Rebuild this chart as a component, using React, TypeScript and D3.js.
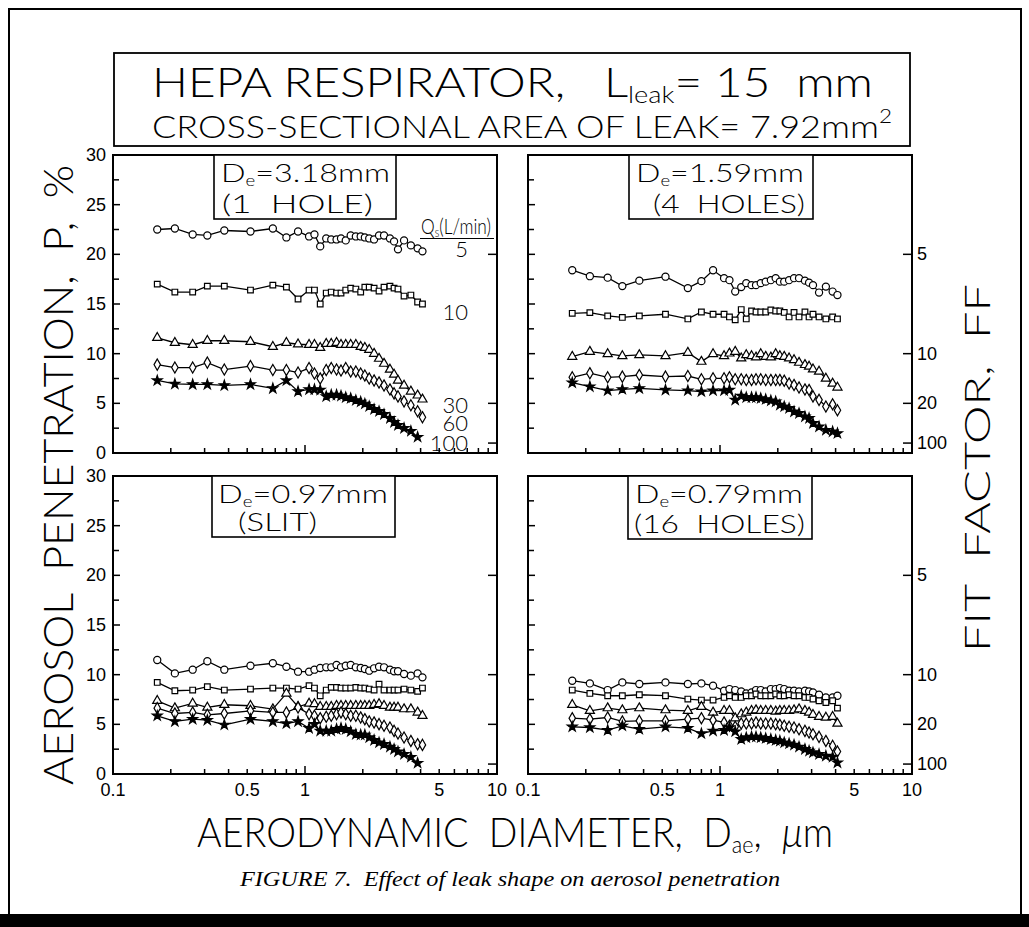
import * as d3 from "d3";

// aerodynamic diameter (um) of each size channel
const sizeUm = [0.17, 0.21, 0.26, 0.31, 0.38, 0.52, 0.68, 0.8, 0.92, 1.05, 1.12, 1.2, 1.29, 1.37, 1.46, 1.54, 1.63, 1.73, 1.84, 1.95, 2.05, 2.16, 2.29, 2.43, 2.58, 2.77, 2.91, 3.05, 3.28, 3.56, 3.86, 4.09];

// De = 3.18 mm (1 hole)
const hole1Q5 = [22.5, 22.6, 22.0, 21.9, 22.4, 22.3, 22.6, 21.7, 22.3, 21.8, 22.0, 20.8, 21.6, 21.5, 21.5, 21.6, 21.4, 21.9, 21.8, 21.8, 21.7, 21.6, 21.5, 21.9, 21.9, 21.6, 21.3, 20.5, 21.4, 20.9, 20.6, 20.3];
const hole1Q10 = [17.0, 16.2, 16.2, 16.8, 16.8, 16.4, 16.9, 16.7, 15.5, 16.4, 16.4, 15.0, 16.1, 16.2, 16.1, 16.1, 16.4, 16.6, 16.5, 16.2, 16.7, 16.7, 16.6, 16.3, 16.7, 16.8, 16.6, 16.5, 15.8, 15.9, 15.2, 15.0];
const hole1Q30 = [11.6, 11.1, 10.9, 11.3, 11.3, 11.2, 10.7, 11.1, 10.95, 10.9, 10.9, 10.6, 11.0, 11.0, 11.1, 10.9, 10.9, 10.9, 10.9, 10.7, 10.6, 10.4, 10.0, 9.5, 9.0, 8.4, 7.9, 7.3, 6.8, 6.2, 5.8, 5.4];
const hole1Q60 = [8.9, 8.6, 8.6, 9.1, 8.4, 8.75, 8.35, 8.35, 8.1, 8.55, 8.0, 7.5, 8.35, 8.55, 8.4, 8.3, 8.55, 8.2, 8.2, 8.0, 7.8, 7.5, 7.3, 7.1, 6.8, 6.4, 6.0, 5.7, 5.2, 4.8, 4.2, 3.6];
const hole1Q100 = [7.3, 6.95, 6.9, 6.9, 6.8, 6.9, 6.5, 7.3, 6.2, 6.4, 6.4, 6.35, 5.7, 5.85, 5.85, 5.75, 5.6, 5.5, 5.3, 5.15, 4.95, 4.7, 4.4, 4.2, 3.9, 3.5, 3.1, 2.8, 2.5, 2.2, 1.6, null];

// De = 1.59 mm (4 holes)
const holes4Q5 = [18.4, 17.8, 17.65, 16.8, 17.35, 17.75, 16.6, 17.3, 18.4, 17.6, 17.4, 16.25, 16.7, 17.1, 16.9, 16.9, 17.1, 17.25, 17.4, 17.6, 17.25, 17.25, 17.4, 17.6, 17.6, 17.35, 17.15, 16.9, 16.15, 16.75, 16.25, 15.9];
const holes4Q10 = [14.06, 14.13, 13.8, 13.65, 13.8, 13.97, 13.5, 14.2, 13.97, 13.97, 13.7, 13.4, 14.44, 13.5, 14.3, 14.2, 14.2, 14.2, 14.4, 14.3, 14.3, 14.15, 13.7, 14.15, 13.7, 14.2, 13.7, 13.97, 13.7, 13.5, 13.7, 13.5];
const holes4Q30 = [9.7, 10.2, 9.97, 9.77, 9.87, 9.77, 10.1, 9.2, 9.97, 9.77, 10.03, 10.2, 9.53, 9.87, 9.77, 9.63, 9.97, 9.7, 9.63, 9.97, 9.77, 9.7, 9.53, 9.36, 9.1, 8.87, 8.7, 8.43, 8.2, 7.5, 7.0, 6.6];
const holes4Q60 = [7.62, 8.03, 7.62, 7.69, 7.85, 7.69, 7.75, 7.42, 7.52, 7.52, 7.62, 7.42, 7.42, 7.35, 7.35, 7.42, 7.42, 7.35, 7.35, 7.35, 7.35, 7.28, 7.0, 6.85, 6.6, 6.4, 6.35, 5.7, 5.35, 4.68, 4.9, 4.3];
const holes4Q100 = [7.08, 6.68, 6.28, 6.41, 6.5, 6.35, 6.28, 6.18, 6.28, 6.28, 6.35, 5.34, 5.74, 5.6, 5.6, 5.6, 5.5, 5.4, 5.27, 5.17, 4.83, 4.67, 4.5, 4.16, 4.0, 3.66, 3.5, 2.99, 2.65, 2.3, 2.15, 1.98];

// De = 0.97 mm (slit)
const slitQ5 = [11.48, 10.13, 10.5, 11.35, 10.5, 10.9, 11.15, 10.8, 10.3, 10.3, 10.5, 10.67, 10.74, 10.74, 10.98, 10.74, 10.9, 10.98, 10.74, 10.67, 10.57, 10.4, 10.64, 10.8, 10.74, 10.5, 10.34, 10.34, 10.07, 9.9, 10.13, 9.73];
const slitQ10 = [9.22, 8.38, 8.45, 8.79, 8.45, 8.55, 8.65, 8.65, 8.55, 8.89, 8.65, 7.87, 8.45, 8.72, 8.72, 8.65, 8.65, 8.65, 8.72, 8.65, 8.65, 8.55, 8.45, 9.05, 8.45, 8.45, 8.45, 8.45, 8.55, 8.45, 8.32, 8.65];
const slitQ30 = [7.37, 6.63, 7.1, 6.7, 6.97, 6.87, 6.53, 8.11, 6.77, 7.1, 7.04, 6.77, 6.77, 6.77, 6.87, 6.87, 6.87, 6.87, 6.87, 6.87, 6.87, 6.87, 6.97, 7.04, 6.87, 6.7, 6.7, 6.7, 6.53, 6.53, 6.2, 5.86];
const slitQ60 = [6.63, 6.09, 6.2, 5.96, 6.09, 6.36, 6.2, 6.2, 6.7, 6.03, 5.86, 5.62, 5.76, 5.86, 6.03, 6.2, 6.03, 5.86, 5.86, 5.69, 5.52, 5.29, 5.19, 5.02, 4.85, 4.68, 4.34, 4.07, 3.67, 3.33, 3.0, 2.93];
const slitQ100 = [5.86, 5.29, 5.52, 5.42, 4.95, 5.52, 5.29, 5.08, 5.29, 4.61, 5.02, 4.34, 4.34, 4.34, 4.51, 4.61, 4.51, 4.27, 4.0, 3.94, 3.94, 3.67, 3.4, 3.16, 3.0, 2.73, 2.5, 2.25, 2.0, 1.7, 1.1, null];

// De = 0.79 mm (16 holes)
const holes16Q5 = [9.39, 9.12, 8.45, 9.22, 9.06, 9.22, 9.06, 9.12, 8.89, 8.38, 8.55, 8.45, 8.32, 8.11, 8.21, 8.45, 8.45, 8.32, 8.55, 8.55, 8.65, 8.55, 8.38, 8.38, 8.32, 8.38, 8.32, 8.21, 7.98, 7.71, 7.71, 7.88];
const holes16Q10 = [8.45, 8.11, 7.88, 7.88, 7.98, 7.88, 7.54, 7.44, 7.44, 7.71, 7.88, 7.71, 7.71, 7.88, 7.88, 8.05, 7.88, 7.88, 7.88, 8.05, 7.88, 7.88, 7.98, 7.88, 7.88, 7.71, 7.71, 7.54, 7.37, 7.2, 7.37, 6.63];
const holes16Q30 = [6.97, 6.36, 6.63, 6.43, 6.63, 6.43, 6.36, 6.77, 6.2, 6.36, 6.36, 5.62, 6.03, 6.2, 6.36, 6.43, 6.36, 6.36, 6.36, 6.3, 6.36, 6.36, 6.36, 6.43, 6.53, 6.36, 6.2, 5.96, 5.76, 5.69, 5.76, 5.08];
const holes16Q60 = [5.62, 5.52, 5.69, 5.29, 5.35, 5.35, 5.52, 5.62, 5.42, 5.19, 4.85, 4.75, 5.08, 5.08, 5.08, 5.19, 5.08, 5.08, 5.08, 5.02, 4.95, 4.85, 4.75, 4.68, 4.51, 4.34, 4.17, 4.0, 3.74, 3.33, 2.83, 2.26];
const holes16Q100 = [4.75, 4.68, 4.41, 4.85, 4.51, 4.75, 4.61, 4.07, 4.34, 4.41, 4.68, 4.27, 3.5, 3.67, 3.74, 3.74, 3.67, 3.6, 3.5, 3.4, 3.33, 3.16, 3.06, 2.93, 2.73, 2.5, 2.32, 2.16, 1.99, 1.82, 1.72, 1.14];

const flowLabels = ["5", "10", "30", "60", "100"];
const yTicks = [0, 5, 10, 15, 20, 25, 30];
const yMinorTicks = [2.5, 7.5, 12.5, 17.5, 22.5, 27.5];
const xTickLabels = [0.1, 0.5, 1, 5, 10];
const xMinorTicks = [0.2, 0.3, 0.4, 0.5, 0.6, 0.7, 0.8, 0.9, 1, 2, 3, 4, 5, 6, 7, 8, 9];
const fitFactorTicks = [5, 10, 20, 100];

const symbols = [d3.symbolCircle, d3.symbolSquare, d3.symbolTriangle, d3.symbolDiamond, d3.symbolStar];
const symbolSizes = [40, 32, 36, 36, 30];

const W = 384;
const H = 298;

const plotFont = "Lato, 'Liberation Sans', sans-serif";
const tickFont = "'Liberation Sans', Arial, sans-serif";

const panels = [
  {x: 113, y: 155, de: "3.18mm", note: "(1  HOLE)", box: [214, 396, 64], l1: [221, 169], l2: [222, 151], data: [hole1Q5, hole1Q10, hole1Q30, hole1Q60, hole1Q100], left: true, right: false, bottom: false},
  {x: 528, y: 155, de: "1.59mm", note: "(4  HOLES)", box: [629, 813, 64], l1: [636, 168], l2: [653, 152], data: [holes4Q5, holes4Q10, holes4Q30, holes4Q60, holes4Q100], left: false, right: true, bottom: false},
  {x: 113, y: 476, de: "0.97mm", note: "(SLIT)", box: [212, 395, 61], l1: [218, 170], l2: [238, 79], data: [slitQ5, slitQ10, slitQ30, slitQ60, slitQ100], left: true, right: false, bottom: true},
  {x: 528, y: 476, de: "0.79mm", note: "(16  HOLES)", box: [628, 812, 63], l1: [635, 168], l2: [634, 171], data: [holes16Q5, holes16Q10, holes16Q30, holes16Q60, holes16Q100], left: false, right: true, bottom: true},
];

function Panel({p}: any) {
  const xScale = d3.scaleLog().domain([0.1, 10]).range([0, W]);
  const yScale = d3.scaleLinear().domain([0, 30]).range([H, 0]);
  const line = d3.line<any>()
    .defined((d) => d[1] != null)
    .x((d) => xScale(d[0]))
    .y((d) => yScale(d[1]));

  return (
    <g transform={`translate(${p.x},${p.y})`}>
      <rect x={0} y={0} width={W} height={H} fill="none" stroke="#000" strokeWidth={2} />
      {yTicks.map((t) => (
        <line key={"yl" + t} x1={0} x2={7} y1={yScale(t)} y2={yScale(t)} stroke="#000" strokeWidth={1.5} />
      ))}
      {yMinorTicks.map((t) => (
        <line key={"ym" + t} x1={0} x2={6} y1={yScale(t)} y2={yScale(t)} stroke="#000" strokeWidth={1.5} />
      ))}
      {fitFactorTicks.map((f) => (
        <line key={"ff" + f} x1={W} x2={W - 9} y1={yScale(100 / f)} y2={yScale(100 / f)} stroke="#000" strokeWidth={1.5} />
      ))}
      {xMinorTicks.map((t) => (
        <line key={"xm" + t} x1={xScale(t)} x2={xScale(t)} y1={H} y2={H - (t === 1 ? 8 : 5)} stroke="#000" strokeWidth={1.5} />
      ))}
      {p.left && yTicks.map((t) => (
        <text key={"yt" + t} x={-7} y={yScale(t) + 6} textAnchor="end" fontFamily={tickFont} fontSize={18}>{t}</text>
      ))}
      {p.right && fitFactorTicks.map((f) => (
        <text key={"ft" + f} x={W + 5} y={yScale(100 / f) + 6} fontFamily={tickFont} fontSize={18}>{f}</text>
      ))}
      {p.bottom && xTickLabels.map((t) => (
        <text key={"xt" + t} x={xScale(t)} y={H + 22} textAnchor="middle" fontFamily={tickFont} fontSize={18}>{t}</text>
      ))}

      {p.data.map((vals: any[], si: number) => {
        const pts = sizeUm.map((s, i) => [s, vals[i]]);
        const sym = d3.symbol().type(symbols[si]).size(symbolSizes[si]);
        return (
          <g key={"s" + si}>
            <path d={line(pts) || ""} fill="none" stroke="#000" strokeWidth={1.3} />
            {pts.filter((d) => d[1] != null).map((d, i) => (
              <path
                key={i}
                transform={`translate(${xScale(d[0])},${yScale(d[1])})`}
                d={sym() || ""}
                fill={si === 4 ? "#000" : "#fff"}
                stroke="#000"
                strokeWidth={1.2}
              />
            ))}
          </g>
        );
      })}

      <rect x={p.box[0] - p.x} y={0} width={p.box[1] - p.box[0]} height={p.box[2]} fill="#fff" stroke="#000" strokeWidth={1.6} />
      <text x={p.l1[0] - p.x} y={27} fontFamily={plotFont} fontWeight={300} fontSize={26} textLength={p.l1[1]} lengthAdjust="spacingAndGlyphs">
        D<tspan fontSize={15} dy={4}>e</tspan><tspan dy={-4}>={p.de}</tspan>
      </text>
      <text x={p.l2[0] - p.x} y={p.box[2] - 6} fontFamily={plotFont} fontWeight={300} fontSize={25} textLength={p.l2[1]} lengthAdjust="spacingAndGlyphs" style={{whiteSpace: "pre"}}>
        {p.note}
      </text>
    </g>
  );
}

export default function App() {
  const tl = panels[0];
  const flowY = [tl.y + 102, tl.y + 165, tl.y + 258, tl.y + 276, tl.y + 296];
  return (
    <svg width={1029} height={927} style={{position: "absolute", left: 0, top: 0, background: "#fff"}}>
      <rect x={0} y={0} width={1029} height={927} fill="#fff" />
      <rect x={9} y={9} width={1012} height={910} fill="none" stroke="#000" strokeWidth={2} />
      <rect x={0} y={914} width={1029} height={13} fill="#000" />

      <rect x={114} y={53} width={796} height={93} fill="none" stroke="#000" strokeWidth={1.8} />
      <text x={152} y={97} fontFamily={plotFont} fontWeight={300} fontSize={42} textLength={721} lengthAdjust="spacingAndGlyphs" style={{whiteSpace: "pre"}}>
        {"HEPA RESPIRATOR,   L"}<tspan fontSize={24} dy={6}>leak</tspan><tspan dy={-6}>{"= 15  mm"}</tspan>
      </text>
      <text x={152} y={138} fontFamily={plotFont} fontWeight={300} fontSize={32} textLength={740} lengthAdjust="spacingAndGlyphs" style={{whiteSpace: "pre"}}>
        {"CROSS-SECTIONAL AREA OF LEAK= 7.92mm"}<tspan fontSize={20} dy={-15}>2</tspan>
      </text>

      {panels.map((p, i) => <Panel key={i} p={p} />)}

      <g fontFamily={plotFont} fontWeight={300}>
        <text x={421} y={234} fontSize={21} textLength={70} lengthAdjust="spacingAndGlyphs">
          Q<tspan fontSize={13} dy={3}>s</tspan><tspan dy={-3}>(L/min)</tspan>
        </text>
        <line x1={420} x2={494} y1={238.5} y2={238.5} stroke="#000" strokeWidth={1.2} />
        {flowLabels.map((f, i) => (
          <text key={f} x={468} y={flowY[i]} textAnchor="end" fontSize={22}>{f}</text>
        ))}
      </g>

      <text x={197} y={847} fontFamily={plotFont} fontWeight={300} fontSize={42} textLength={636} lengthAdjust="spacingAndGlyphs" style={{whiteSpace: "pre"}}>
        {"AERODYNAMIC  DIAMETER,  D"}<tspan fontSize={24} dy={6}>ae</tspan><tspan dy={-6}>{",  "}</tspan><tspan fontStyle="italic">μ</tspan>m
      </text>
      <text transform="translate(73,475) rotate(-90)" textAnchor="middle" fontFamily={plotFont} fontWeight={300} fontSize={41} textLength={620} lengthAdjust="spacingAndGlyphs" style={{whiteSpace: "pre"}}>
        {"AEROSOL  PENETRATION,  P,  %"}
      </text>
      <text transform="translate(990,468) rotate(-90)" textAnchor="middle" fontFamily={plotFont} fontWeight={300} fontSize={36} textLength={368} lengthAdjust="spacingAndGlyphs" style={{whiteSpace: "pre"}}>
        {"FIT  FACTOR,  FF"}
      </text>
      <text x={240} y={886} fontFamily="'Liberation Serif', 'Times New Roman', serif" fontStyle="italic" fontSize={22} textLength={540} lengthAdjust="spacingAndGlyphs" style={{whiteSpace: "pre"}}>
        {"FIGURE 7.  Effect of leak shape on aerosol penetration"}
      </text>
    </svg>
  );
}
